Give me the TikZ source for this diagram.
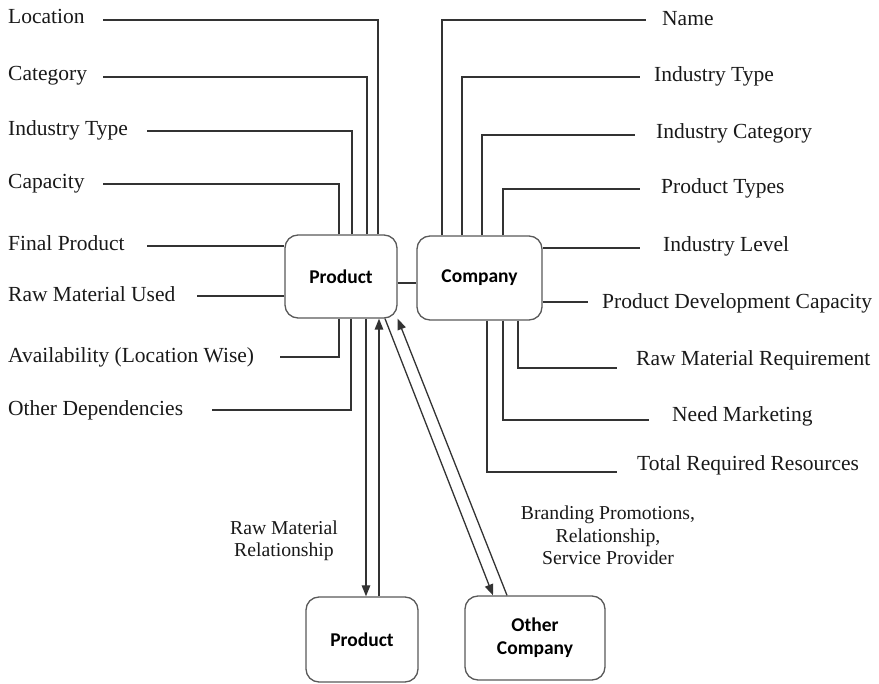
\documentclass[tikz,border=0pt]{standalone}
\usepackage{fontspec}
\setmainfont{Liberation Serif}
\newfontfamily\boxfont{Carlito}
\usetikzlibrary{arrows.meta}
\begin{document}
\begin{tikzpicture}[x=1pt,y=-1pt,
  entity/.style={draw=black!65, line width=1.3pt, rounded corners=13pt, fill=white,
    font=\boxfont\bfseries\fontsize{19.5}{23}\selectfont, align=center, inner sep=0},
  attr/.style={font=\fontsize{21.5}{24}\selectfont, text=black!90, inner sep=0, anchor=base west},
  rel/.style={font=\fontsize{19.7}{22.5}\selectfont, text=black!90, align=center, inner sep=0, anchor=base},
  link/.style={draw=black!80, line width=1.3pt},
  arr/.style={link, -{Triangle[length=11pt,width=8.5pt]}}
]
\useasboundingbox (0,0) rectangle (879,684);

% entities
\node[entity, minimum width=112pt, minimum height=83pt] (P) at (341,276.5) {Product};
\node[entity, minimum width=125pt, minimum height=84pt] (C) at (479.5,278) {Company};
\node[entity, minimum width=112pt, minimum height=85pt] (BP) at (362,639.5) {Product};
\node[entity, minimum width=140pt, minimum height=84pt] (OC) at (535,638) {Other\\Company};

% attributes of Product
\node[attr] (lLoc) at (8,24) {Location};
\node[attr] (lCat) at (8,81) {Category};
\node[attr] (lInd) at (8,136) {Industry Type};
\node[attr] (lCap) at (8,189) {Capacity};
\node[attr] (lFin) at (8,251) {Final Product};
\node[attr] (lRaw) at (8,302) {Raw Material Used};
\node[attr] (lAva) at (8,363) {Availability (Location Wise)};
\node[attr] (lOth) at (8,416) {Other Dependencies};

\coordinate (eLoc) at (103,20);
\coordinate (eCat) at (103,77);
\coordinate (eInd) at (147,131);
\coordinate (eCap) at (103,184);
\coordinate (eFin) at (147,246);
\coordinate (eRaw) at (197,296);
\coordinate (eAva) at (280,357);
\coordinate (eOth) at (212,410);

\draw[link] (P.north -| 378,0) |- (eLoc);
\draw[link] (P.north -| 367,0) |- (eCat);
\draw[link] (P.north -| 352,0) |- (eInd);
\draw[link] (P.north -| 339,0) |- (eCap);
\draw[link] (P.west |- eFin) -- (eFin);
\draw[link] (P.west |- eRaw) -- (eRaw);
\draw[link] (P.south -| 339,0) |- (eAva);
\draw[link] (P.south -| 351,0) |- (eOth);

% attributes of Company
\node[attr] (rNam) at (662,26) {Name};
\node[attr] (rTyp) at (654,82) {Industry Type};
\node[attr] (rCat) at (656,139) {Industry Category};
\node[attr] (rPro) at (661,194) {Product Types};
\node[attr] (rLev) at (663,252) {Industry Level};
\node[attr] (rDev) at (602,309) {Product Development Capacity};
\node[attr] (rRaw) at (636,366) {Raw Material Requirement};
\node[attr] (rMkt) at (672,422) {Need Marketing};
\node[attr] (rRes) at (637,471) {Total Required Resources};

\coordinate (fNam) at (646,20);
\coordinate (fTyp) at (640,77);
\coordinate (fCat) at (635,135);
\coordinate (fPro) at (640,189);
\coordinate (fLev) at (640,248);
\coordinate (fDev) at (588,302);
\coordinate (fRaw) at (617,368);
\coordinate (fMkt) at (649,420);
\coordinate (fRes) at (617,472);

\draw[link] (C.north -| 442,0) |- (fNam);
\draw[link] (C.north -| 462,0) |- (fTyp);
\draw[link] (C.north -| 482,0) |- (fCat);
\draw[link] (C.north -| 503,0) |- (fPro);
\draw[link] (C.east |- fLev) -- (fLev);
\draw[link] (C.east |- fDev) -- (fDev);
\draw[link] (C.south -| 518,0) |- (fRaw);
\draw[link] (C.south -| 503,0) |- (fMkt);
\draw[link] (C.south -| 487,0) |- (fRes);

% Product -- Company
\draw[link] (P.east |- 0,283) -- (C.west |- 0,283);

% relationships to the lower entities
\draw[arr] (P.south -| 366,0) -- (BP.north -| 366,0);
\draw[arr] (BP.north -| 379,0) -- (P.south -| 379,0);
\draw[arr] (P.south -| 385,0) -- (OC.north -| 493,0);
\draw[arr] (OC.north -| 507,0) -- (P.south east);

% relationship labels (anchored on the baseline of their last line)
\node[rel] (tRaw) at (284,557) {Raw Material\\Relationship};
\node[rel] (tBrand) at (608,565) {Branding Promotions,\\Relationship,\\Service Provider};
\end{tikzpicture}
\end{document}
